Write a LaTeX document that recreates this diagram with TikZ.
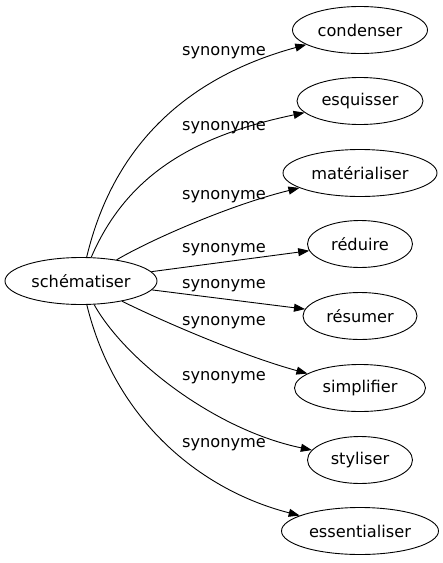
\documentclass[tikz,border=0pt]{standalone}
\usepackage{fontspec}
\setmainfont{DejaVu Sans}
\usetikzlibrary{arrows.meta, shapes.geometric}

\begin{document}
\begin{tikzpicture}[x=1pt, y=-1pt, >={Triangle[length=11pt, width=8pt]}, line width=0.9pt,
  word/.style={draw, ellipse, inner sep=0pt, minimum height=47pt, font=\fontsize{16.2}{19}\selectfont},
  rel/.style={font=\fontsize{16.2}{19}\selectfont, inner sep=0pt}]

\useasboundingbox (0,0) rectangle (443,563);

% Source word
\node[word, minimum width=152pt] (schematiser) at (81,281) {schématiser};

% Synonyms
\node[word, minimum width=135pt] (condenser) at (360,30) {condenser};
\node[word, minimum width=126pt] (esquisser) at (360,101) {esquisser};
\node[word, minimum width=154pt] (materialiser) at (360,173) {matérialiser};
\node[word, minimum width=105pt] (reduire) at (360,244) {réduire};
\node[word, minimum width=114pt] (resumer) at (360,316) {résumer};
\node[word, minimum width=131pt] (simplifier) at (360,388) {simplifier};
\node[word, minimum width=105pt] (styliser) at (360,460) {styliser};
\node[word, minimum width=157pt] (essentialiser) at (360,531) {essentialiser};

% Edge labels
\node[rel] (syn1) at (224,53) {synonyme};
\node[rel] (syn2) at (224,128) {synonyme};
\node[rel] (syn3) at (224,197) {synonyme};
\node[rel] (syn4) at (224,250) {synonyme};
\node[rel] (syn5) at (224,286) {synonyme};
\node[rel] (syn6) at (224,323) {synonyme};
\node[rel] (syn7) at (224,378) {synonyme};
\node[rel] (syn8) at (224,445) {synonyme};

% Edges
\draw[->] (schematiser) .. controls (115,138) and (195,75) .. (condenser);
\draw[->] (schematiser) .. controls (128,172) and (198,135) .. (esquisser);
\draw[->] (schematiser) .. controls (150,240) and (230,205) .. (materialiser);
\draw[->] (schematiser) -- (reduire);
\draw[->] (schematiser) -- (resumer);
\draw[->] (schematiser) .. controls (160,320) and (240,355) .. (simplifier);
\draw[->] (schematiser) .. controls (125,360) and (215,430) .. (styliser);
\draw[->] (schematiser) .. controls (115,420) and (200,490) .. (essentialiser);

\end{tikzpicture}
\end{document}
